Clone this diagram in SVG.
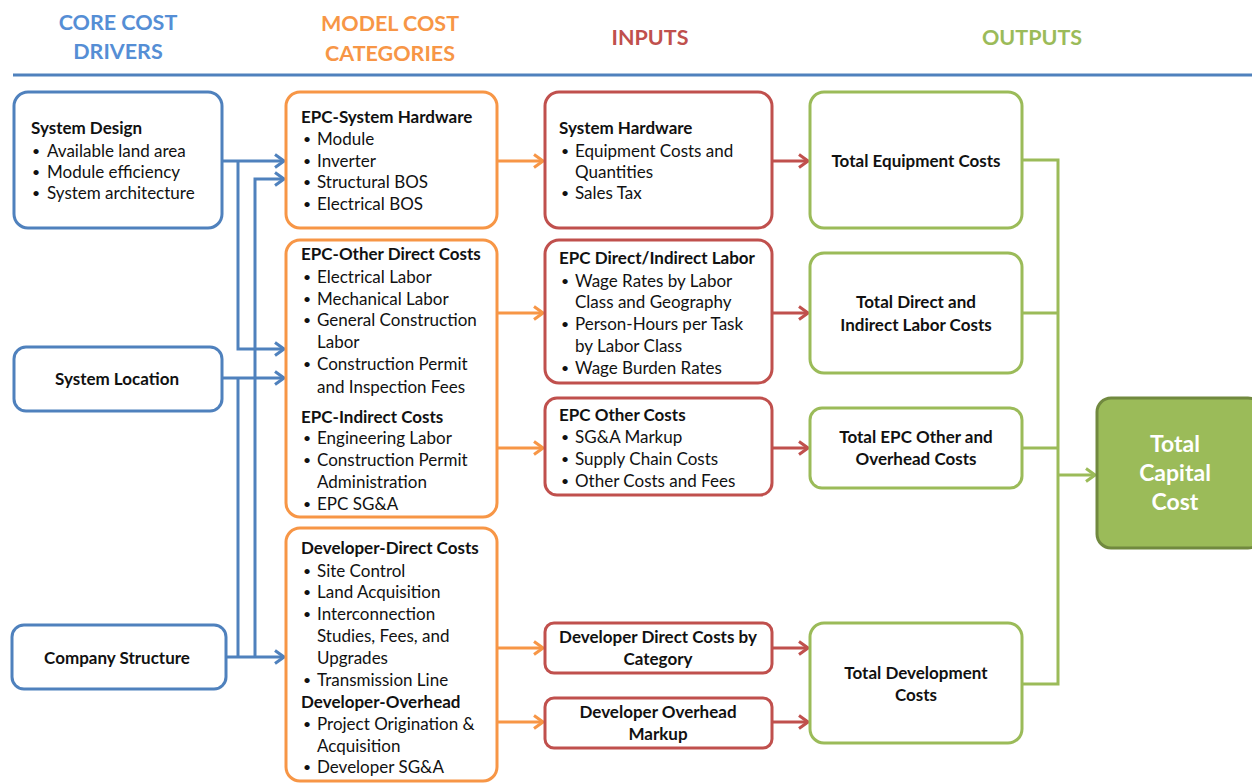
<svg xmlns="http://www.w3.org/2000/svg" width="1252" height="784" viewBox="0 0 1252 784">
<style>
text{font-family:Lato,"Liberation Sans",sans-serif;font-size:17px;fill:#111;}
.b{font-weight:bold;}
.c{text-anchor:middle;}
.d{font-size:14px;}
.h{font-size:21.5px;font-weight:bold;text-anchor:middle;}
.box{fill:#fff;stroke-width:3;}
.blue{stroke:#4F81BD;}
.orange{stroke:#F79646;}
.red{stroke:#C0504D;}
.green{stroke:#9BBB59;}
.ln{fill:none;stroke-width:3;}
</style>
<defs>
<marker id="mb" viewBox="0 0 12 16" refX="10.5" refY="8" markerWidth="12" markerHeight="16" orient="auto" markerUnits="userSpaceOnUse"><path d="M1.5,1.5 L10.5,8 L1.5,14.5" fill="none" stroke="#4F81BD" stroke-width="3"/></marker>
<marker id="mo" viewBox="0 0 12 16" refX="10.5" refY="8" markerWidth="12" markerHeight="16" orient="auto" markerUnits="userSpaceOnUse"><path d="M1.5,1.5 L10.5,8 L1.5,14.5" fill="none" stroke="#F79646" stroke-width="3"/></marker>
<marker id="mr" viewBox="0 0 12 16" refX="10.5" refY="8" markerWidth="12" markerHeight="16" orient="auto" markerUnits="userSpaceOnUse"><path d="M1.5,1.5 L10.5,8 L1.5,14.5" fill="none" stroke="#C0504D" stroke-width="3"/></marker>
<marker id="mg" viewBox="0 0 12 16" refX="10.5" refY="8" markerWidth="12" markerHeight="16" orient="auto" markerUnits="userSpaceOnUse"><path d="M1.5,1.5 L10.5,8 L1.5,14.5" fill="none" stroke="#9BBB59" stroke-width="3"/></marker>
</defs>
<rect width="1252" height="784" fill="#fff"/>

<g id="headers">
<text class="h" x="118" y="30" style="fill:#558ED5">CORE COST</text>
<text class="h" x="118" y="59" style="fill:#558ED5">DRIVERS</text>
<text class="h" x="390" y="31" style="fill:#F79646">MODEL COST</text>
<text class="h" x="390" y="61" style="fill:#F79646">CATEGORIES</text>
<text class="h" x="650" y="45" style="fill:#C0504D">INPUTS</text>
<text class="h" x="1032" y="45" style="fill:#9BBB59">OUTPUTS</text>
<line x1="13" y1="75" x2="1252" y2="75" stroke="#4F81BD" stroke-width="3"/>
</g>

<g id="connectors">
<path class="ln blue" d="M222,161 H284" marker-end="url(#mb)"/>
<path class="ln blue" d="M238,161 V349 H284" marker-end="url(#mb)"/>
<path class="ln blue" d="M255,657 V179 H284" marker-end="url(#mb)"/>
<path class="ln blue" d="M222,378 H284" marker-end="url(#mb)"/>
<path class="ln blue" d="M238,378 V657"/>
<path class="ln blue" d="M226,657 H284" marker-end="url(#mb)"/>

<path class="ln orange" d="M498,161 H543" marker-end="url(#mo)"/>
<path class="ln orange" d="M498,313 H543" marker-end="url(#mo)"/>
<path class="ln orange" d="M498,448 H543" marker-end="url(#mo)"/>
<path class="ln orange" d="M498,648 H543" marker-end="url(#mo)"/>
<path class="ln orange" d="M498,722 H543" marker-end="url(#mo)"/>

<path class="ln red" d="M773,161 H808" marker-end="url(#mr)"/>
<path class="ln red" d="M773,313 H808" marker-end="url(#mr)"/>
<path class="ln red" d="M773,448 H808" marker-end="url(#mr)"/>
<path class="ln red" d="M773,648 H808" marker-end="url(#mr)"/>
<path class="ln red" d="M773,722 H808" marker-end="url(#mr)"/>

<path class="ln green" d="M1022,160 H1058 V684 H1022"/>
<path class="ln green" d="M1022,313 H1058"/>
<path class="ln green" d="M1022,448 H1058"/>
<path class="ln green" d="M1058,475 H1095" marker-end="url(#mg)"/>
</g>

<g id="system-design">
<rect class="box blue" x="14" y="92" width="208" height="136" rx="14"/>
<text class="b" x="31" y="134">System Design</text>
<text class="d" x="32" y="156">•</text><text x="47" y="157">Available land area</text>
<text class="d" x="32" y="177">•</text><text x="47" y="178">Module  efficiency</text>
<text class="d" x="32" y="198">•</text><text x="47" y="199">System  architecture</text>
</g>

<g id="system-location">
<rect class="box blue" x="14" y="347" width="208" height="64" rx="12"/>
<text class="b c" x="117" y="385">System Location</text>
</g>

<g id="company-structure">
<rect class="box blue" x="12" y="625" width="214" height="64" rx="12"/>
<text class="b c" x="117" y="664">Company Structure</text>
</g>

<g id="epc-system-hardware">
<rect class="box orange" x="286" y="92" width="211" height="136" rx="14"/>
<text class="b" x="301" y="123">EPC-System Hardware</text>
<text class="d" x="303" y="144">•</text><text x="317" y="145">Module</text>
<text class="d" x="303" y="166">•</text><text x="317" y="167">Inverter</text>
<text class="d" x="303" y="187">•</text><text x="317" y="188">Structural  BOS</text>
<text class="d" x="303" y="209">•</text><text x="317" y="210">Electrical BOS</text>
</g>

<g id="epc-other-indirect">
<rect class="box orange" x="286" y="240" width="211" height="277" rx="14"/>
<text class="b" x="301" y="260">EPC-Other Direct Costs</text>
<text class="d" x="303" y="282">•</text><text x="317" y="283">Electrical Labor</text>
<text class="d" x="303" y="304">•</text><text x="317" y="305">Mechanical  Labor</text>
<text class="d" x="303" y="325">•</text><text x="317" y="326">General  Construction</text>
<text x="317" y="348">Labor</text>
<text class="d" x="303" y="369">•</text><text x="317" y="370">Construction  Permit</text>
<text x="317" y="393">and Inspection Fees</text>
<text class="b" x="301" y="423">EPC-Indirect Costs</text>
<text class="d" x="303" y="443">•</text><text x="317" y="444">Engineering  Labor</text>
<text class="d" x="303" y="465">•</text><text x="317" y="466">Construction  Permit</text>
<text x="317" y="488">Administration</text>
<text class="d" x="303" y="509">•</text><text x="317" y="510">EPC SG&amp;A</text>
</g>

<g id="developer-costs">
<rect class="box orange" x="286" y="528" width="211" height="253" rx="14"/>
<text class="b" x="301" y="554">Developer-Direct Costs</text>
<text class="d" x="303" y="576">•</text><text x="317" y="577">Site Control</text>
<text class="d" x="303" y="597">•</text><text x="317" y="598">Land Acquisition</text>
<text class="d" x="303" y="619">•</text><text x="317" y="620">Interconnection</text>
<text x="317" y="642">Studies, Fees, and</text>
<text x="317" y="664">Upgrades</text>
<text class="d" x="303" y="685">•</text><text x="317" y="686">Transmission Line</text>
<text class="b" x="301" y="708">Developer-Overhead</text>
<text class="d" x="303" y="729">•</text><text x="317" y="730">Project Origination &amp;</text>
<text x="317" y="752">Acquisition</text>
<text class="d" x="303" y="772">•</text><text x="317" y="773">Developer SG&amp;A</text>
</g>

<g id="system-hardware">
<rect class="box red" x="545" y="92" width="227" height="136" rx="14"/>
<text class="b" x="559" y="134">System Hardware</text>
<text class="d" x="561" y="156">•</text><text x="575" y="157">Equipment  Costs and</text>
<text x="575" y="178">Quantities</text>
<text class="d" x="561" y="198">•</text><text x="575" y="199">Sales Tax</text>
</g>

<g id="epc-labor">
<rect class="box red" x="545" y="240" width="227" height="143" rx="14"/>
<text class="b" x="559" y="264">EPC Direct/Indirect Labor</text>
<text class="d" x="561" y="286">•</text><text x="575" y="287">Wage Rates by Labor</text>
<text x="575" y="308">Class and Geography</text>
<text class="d" x="561" y="329">•</text><text x="575" y="330">Person-Hours  per Task</text>
<text x="575" y="352">by Labor Class</text>
<text class="d" x="561" y="373">•</text><text x="575" y="374">Wage Burden  Rates</text>
</g>

<g id="epc-other-costs">
<rect class="box red" x="545" y="398" width="227" height="97" rx="12"/>
<text class="b" x="559" y="421">EPC Other Costs</text>
<text class="d" x="561" y="442">•</text><text x="575" y="443">SG&amp;A Markup</text>
<text class="d" x="561" y="464">•</text><text x="575" y="465">Supply  Chain Costs</text>
<text class="d" x="561" y="486">•</text><text x="575" y="487">Other Costs and Fees</text>
</g>

<g id="developer-direct">
<rect class="box red" x="545" y="623" width="227" height="50" rx="9"/>
<text class="b c" x="658" y="643">Developer Direct Costs  by</text>
<text class="b c" x="658" y="665">Category</text>
</g>

<g id="developer-overhead">
<rect class="box red" x="545" y="698" width="227" height="50" rx="9"/>
<text class="b c" x="658" y="718">Developer Overhead</text>
<text class="b c" x="658" y="740">Markup</text>
</g>

<g id="total-equipment">
<rect class="box green" x="810" y="92" width="212" height="136" rx="14"/>
<text class="b c" x="916" y="167">Total Equipment Costs</text>
</g>

<g id="total-labor">
<rect class="box green" x="810" y="253" width="212" height="120" rx="14"/>
<text class="b c" x="916" y="308">Total Direct and</text>
<text class="b c" x="916" y="331">Indirect Labor Costs</text>
</g>

<g id="total-epc-other">
<rect class="box green" x="810" y="408" width="212" height="80" rx="12"/>
<text class="b c" x="916" y="443">Total EPC Other and</text>
<text class="b c" x="916" y="465">Overhead Costs</text>
</g>

<g id="total-development">
<rect class="box green" x="810" y="623" width="212" height="120" rx="14"/>
<text class="b c" x="916" y="679">Total Development</text>
<text class="b c" x="916" y="701">Costs</text>
</g>

<g id="total-capital">
<rect x="1097" y="398" width="165" height="150" rx="14" fill="#9BBB59" stroke="#71893F" stroke-width="3"/>
<text class="b c" x="1175" y="452" style="fill:#fff;font-size:23px">Total</text>
<text class="b c" x="1175" y="481" style="fill:#fff;font-size:23px">Capital</text>
<text class="b c" x="1175" y="510" style="fill:#fff;font-size:23px">Cost</text>
</g>
</svg>
